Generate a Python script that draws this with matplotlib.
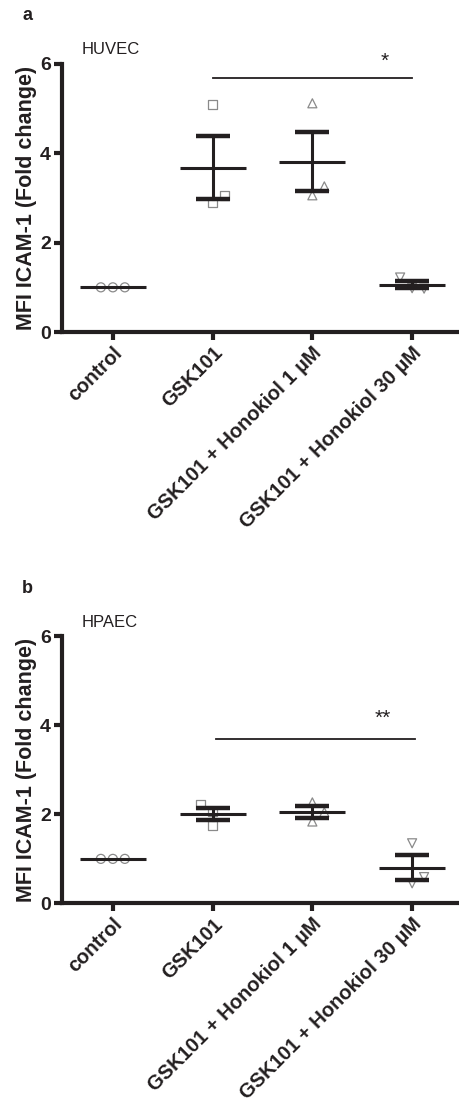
import numpy as np
import matplotlib
matplotlib.use("Agg")
from matplotlib import pyplot as plt

plt.rcParams['font.family'] = ['Liberation Sans', 'DejaVu Sans']

GROUPS = ["control", "GSK101", "GSK101 + Honokiol 1 \u00b5M", "GSK101 + Honokiol 30 \u00b5M"]
MARKERS = ['o', 's', '^', 'v']

# values per group (3 replicates)
huvec_vals = [[1.0, 1.0, 1.0], [5.09, 2.90, 3.05], [5.12, 3.06, 3.26], [1.22, 0.98, 0.97]]
huvec_offs = [[-0.12, 0, 0.12], [0, 0, 0.12], [0, 0, 0.12], [-0.12, 0, 0.12]]
hpaec_vals = [[1.0, 1.0, 1.0], [2.23, 2.06, 1.76], [2.27, 1.84, 2.05], [1.35, 0.45, 0.59]]
hpaec_offs = [[-0.12, 0, 0.12], [-0.12, 0, 0], [0, 0, 0.12], [0, 0, 0.12]]

# significance bars: (from group, to group, height, star text, star x, star y)
huvec_sig = (1, 3, 5.69, "*", 2.73, 6.07)
hpaec_sig = (1.03, 3.03, 3.69, "**", 2.71, 4.17)

AX_COL = '#231f20'
PT_COL = '#8a8a8a'


def draw_panel(ax, vals, offs, sig, cell, letter):
    for i, (v, o) in enumerate(zip(vals, offs)):
        v = np.array(v)
        m = v.mean()
        sem = v.std(ddof=1) / np.sqrt(len(v))
        ax.scatter(i + np.array(o), v, marker=MARKERS[i], s=42, facecolors='none',
                   edgecolors=PT_COL, linewidths=0.9, zorder=2)
        ax.plot([i - 0.33, i + 0.33], [m, m], color=AX_COL, lw=2.2, zorder=3, solid_capstyle='butt')
        if sem > 0:
            ax.plot([i, i], [m - sem, m + sem], color=AX_COL, lw=2.2, zorder=3)
            for y in (m - sem, m + sem):
                ax.plot([i - 0.17, i + 0.17], [y, y], color=AX_COL, lw=3.2, zorder=3,
                        solid_capstyle='butt')
    x0, x1, h, star, sx, sy = sig
    ax.plot([x0, x1], [h, h], color=AX_COL, lw=1.3, clip_on=False)
    ax.text(sx, sy, star, ha='center', va='center', fontsize=15, color=AX_COL, clip_on=False)

    ax.set_xlim(-0.51, 3.47)
    ax.set_ylim(0, 6)
    ax.set_yticks([0, 2, 4, 6])
    ax.set_xticks(range(4))
    ax.set_xticklabels(GROUPS, rotation=45, ha='right', va='top', rotation_mode='anchor',
                       fontsize=14.5, fontweight='bold', color=AX_COL)
    for lab in ax.get_yticklabels():
        lab.set_fontweight('bold')
        lab.set_fontsize(14)
        lab.set_color(AX_COL)
    ax.spines['top'].set_visible(False)
    ax.spines['right'].set_visible(False)
    for s in ('left', 'bottom'):
        ax.spines[s].set_linewidth(3)
        ax.spines[s].set_color(AX_COL)
    ax.tick_params(axis='both', width=3, length=6, color=AX_COL, pad=2)
    ax.set_ylabel("MFI ICAM-1 (Fold change)", fontsize=15.5, fontweight='bold', color=AX_COL,
                  labelpad=2)
    ax.text(0.05, 1.053, cell, transform=ax.transAxes, fontsize=12, color=AX_COL, va='center')
    ax.text(-0.1, 1.18, letter, transform=ax.transAxes, fontsize=13, fontweight='bold',
            color=AX_COL, va='center')


fig = plt.figure(figsize=(4.59, 11.03), dpi=100)
ax1 = fig.add_axes([0.135, 0.699, 0.865, 0.243])
ax2 = fig.add_axes([0.135, 0.181, 0.865, 0.242])
draw_panel(ax1, huvec_vals, huvec_offs, huvec_sig, "HUVEC", "a")
draw_panel(ax2, hpaec_vals, hpaec_offs, hpaec_sig, "HPAEC", "b")

fig.savefig("out.png", dpi=100)
